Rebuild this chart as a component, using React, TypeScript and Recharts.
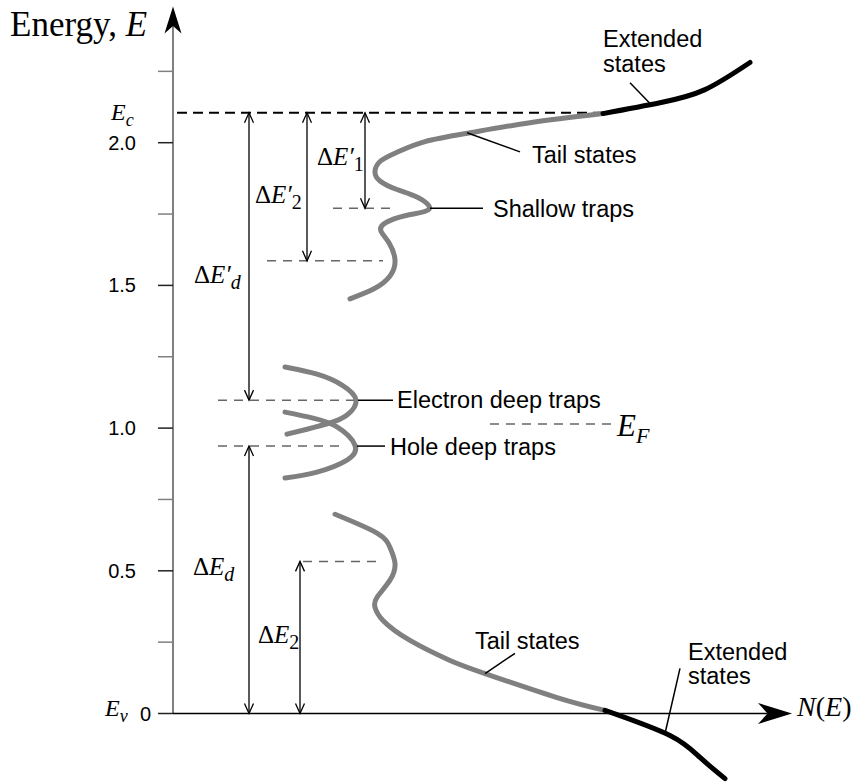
import React from 'react';
import { LineChart, Line, XAxis, YAxis, ReferenceLine, ReferenceDot } from 'recharts';

// ---- data (x: N(E) arbitrary units, y: energy in eV) ----
const yTicks = [0, 0.25, 0.5, 0.75, 1, 1.25, 1.5, 1.75, 2, 2.25];
const yTickLabels = ['0', '', '0.5', '', '1.0', '', '1.5', '', '2.0', ''];

const conductionTail = [
  { x: 1.77, y: 1.453 }, { x: 2.01, y: 1.488 }, { x: 2.17, y: 1.533 }, { x: 2.22, y: 1.589 },
  { x: 2.16, y: 1.649 }, { x: 2.08, y: 1.69 }, { x: 2.12, y: 1.718 }, { x: 2.33, y: 1.745 },
  { x: 2.56, y: 1.767 }, { x: 2.45, y: 1.808 }, { x: 2.24, y: 1.836 }, { x: 2.07, y: 1.866 },
  { x: 2.02, y: 1.9 }, { x: 2.08, y: 1.937 }, { x: 2.25, y: 1.968 }, { x: 2.52, y: 2.004 },
  { x: 2.97, y: 2.035 }, { x: 3.57, y: 2.07 }, { x: 4.3, y: 2.102 },
];
const conductionExtended = [
  { x: 4.3, y: 2.102 }, { x: 4.87, y: 2.14 }, { x: 5.32, y: 2.186 }, { x: 5.77, y: 2.281 },
];
const electronTrap = [
  { x: 1.12, y: 1.214 }, { x: 1.44, y: 1.189 }, { x: 1.69, y: 1.151 }, { x: 1.83, y: 1.098 },
  { x: 1.74, y: 1.046 }, { x: 1.57, y: 1.018 }, { x: 1.34, y: 0.996 }, { x: 1.14, y: 0.979 },
];
const holeTrap = [
  { x: 1.12, y: 1.056 }, { x: 1.4, y: 1.035 }, { x: 1.64, y: 1.004 }, { x: 1.82, y: 0.94 },
  { x: 1.74, y: 0.888 }, { x: 1.44, y: 0.846 }, { x: 1.12, y: 0.825 },
];
const valenceTail = [
  { x: 1.62, y: 0.698 }, { x: 2.04, y: 0.632 }, { x: 2.17, y: 0.582 }, { x: 2.22, y: 0.526 },
  { x: 2.17, y: 0.467 }, { x: 2.04, y: 0.407 }, { x: 2.02, y: 0.372 }, { x: 2.1, y: 0.326 },
  { x: 2.37, y: 0.256 }, { x: 2.77, y: 0.186 }, { x: 3.12, y: 0.14 }, { x: 3.84, y: 0.056 },
  { x: 4.32, y: 0.011 },
];
const valenceExtended = [
  { x: 4.32, y: 0.011 }, { x: 4.97, y: -0.077 }, { x: 5.27, y: -0.154 }, { x: 5.52, y: -0.228 },
];

// energy levels
const levelEc = 2.105;
const levelEv = 0;
const levelShallow1 = 1.77;
const levelShallow2 = 1.586;
const levelElectronDeep = 1.098;
const levelEF = 1.014;
const levelHoleDeep = 0.937;
const levelTail2 = 0.533;

const SERIF = '"Liberation Serif", "Times New Roman", serif';
const SANS = '"Liberation Sans", Arial, sans-serif';
const GRAY = '#808080';

const YTick = (props: any) => {
  const { x, y, index } = props;
  const label = yTickLabels[index];
  const major = label !== '';
  return (
    <g>
      <line x1={x} y1={y} x2={x + 15} y2={y} stroke={major ? '#222' : GRAY} strokeWidth={1.5} />
      {major && (
        <text x={label === '0' ? x - 7 : x - 22} y={y + 7} textAnchor="end" fontFamily={SANS} fontSize={20} fill="#000">
          {label}
        </text>
      )}
    </g>
  );
};

const DoubleArrow = (p: any) => {
  const { x1, y1, x2, y2 } = p;
  const len = Math.hypot(x2 - x1, y2 - y1) || 1;
  const dx = (x2 - x1) / len;
  const dy = (y2 - y1) / len;
  const L = 10;
  const W = 4.5;
  const head = (tx: number, ty: number, ux: number, uy: number) => {
    const nx = -uy;
    const ny = ux;
    const bx = tx - ux * L;
    const by = ty - uy * L;
    return (
      <polyline
        points={`${bx + nx * W},${by + ny * W} ${tx},${ty} ${bx - nx * W},${by - ny * W}`}
        fill="none"
        stroke="#000"
        strokeWidth={1.3}
      />
    );
  };
  return (
    <g>
      <line x1={x1} y1={y1} x2={x2} y2={y2} stroke="#000" strokeWidth={1.3} />
      {head(x2, y2, dx, dy)}
      {head(x1, y1, -dx, -dy)}
    </g>
  );
};

const makeAxisArrow = (lineColor: string, lineWidth: number, L: number, W: number) => (p: any) => {
  const { x1, y1, x2, y2 } = p;
  const len = Math.hypot(x2 - x1, y2 - y1) || 1;
  const ux = (x2 - x1) / len;
  const uy = (y2 - y1) / len;
  const nx = -uy;
  const ny = ux;
  const bx = x2 - ux * L;
  const by = y2 - uy * L;
  const notchX = x2 - ux * L * 0.72;
  const notchY = y2 - uy * L * 0.72;
  return (
    <g>
      <line x1={x1} y1={y1} x2={notchX} y2={notchY} stroke={lineColor} strokeWidth={lineWidth} />
      <polygon
        points={`${x2},${y2} ${bx + nx * W},${by + ny * W} ${notchX},${notchY} ${bx - nx * W},${by - ny * W}`}
        fill="#000"
      />
    </g>
  );
};

const txt = (content: React.ReactNode, opts: any = {}) => (p: any) => (
  <text
    x={p.cx}
    y={p.cy}
    fontFamily={opts.family || SANS}
    fontSize={opts.size || 23.5}
    textAnchor={opts.anchor || 'start'}
    fill="#000"
  >
    {content}
  </text>
);

const deltaLabel = (prime: boolean, sub: string, subItalic: boolean) =>
  txt(
    <>
      <tspan>Δ</tspan>
      <tspan fontStyle="italic">E</tspan>
      {prime && <tspan fontStyle="italic">′</tspan>}
      <tspan fontStyle={subItalic ? 'italic' : 'normal'} fontSize={20} dy={6}>
        {sub}
      </tspan>
    </>,
    { family: SERIF, size: 25 }
  );

const dashedGray = { stroke: '#666', strokeWidth: 1.5, strokeDasharray: '9 7' };
const pointer = { stroke: '#000', strokeWidth: 1.5 };

export default function App() {
  return (
    <div style={{ position: 'absolute', left: 0, top: 0, width: 859, height: 782, background: '#fff' }}>
      <LineChart width={859} height={782} margin={{ top: 0, right: 36, bottom: 0, left: 113 }}>
        <XAxis type="number" dataKey="x" domain={[0, 6.5]} hide />
        <YAxis
          type="number"
          dataKey="y"
          domain={[-0.24, 2.5]}
          ticks={yTicks}
          interval={0}
          width={60}
          axisLine={false}
          tickLine={false}
          tickSize={15}
          tickMargin={0}
          tick={<YTick />}
        />

        {/* axes with arrows */}
        <ReferenceLine segment={[{ x: 0, y: levelEv }, { x: 0, y: 2.477 }]} shape={makeAxisArrow(GRAY, 2, 27, 8.5)} />
        <ReferenceLine segment={[{ x: 0, y: levelEv }, { x: 6.19, y: levelEv }]} shape={makeAxisArrow('#000', 1.5, 34, 10.5)} />

        {/* energy level dashed lines */}
        <ReferenceLine segment={[{ x: 0.04, y: levelEc }, { x: 4.3, y: levelEc }]} stroke="#000" strokeWidth={2} strokeDasharray="10 6" />
        <ReferenceLine segment={[{ x: 1.6, y: levelShallow1 }, { x: 2.2, y: levelShallow1 }]} {...dashedGray} />
        <ReferenceLine segment={[{ x: 0.94, y: levelShallow2 }, { x: 2.1, y: levelShallow2 }]} {...dashedGray} />
        <ReferenceLine segment={[{ x: 0.45, y: levelElectronDeep }, { x: 1.82, y: levelElectronDeep }]} {...dashedGray} />
        <ReferenceLine segment={[{ x: 0.45, y: levelHoleDeep }, { x: 1.67, y: levelHoleDeep }]} {...dashedGray} />
        <ReferenceLine segment={[{ x: 3.17, y: levelEF }, { x: 4.39, y: levelEF }]} {...dashedGray} />
        <ReferenceLine segment={[{ x: 1.3, y: levelTail2 }, { x: 2.05, y: levelTail2 }]} {...dashedGray} />

        {/* density of states curves */}
        <Line data={conductionTail} dataKey="y" type="natural" stroke={GRAY} strokeWidth={5} strokeLinecap="round" dot={false} isAnimationActive={false} />
        <Line data={conductionExtended} dataKey="y" type="natural" stroke="#000" strokeWidth={5} strokeLinecap="round" dot={false} isAnimationActive={false} />
        <Line data={electronTrap} dataKey="y" type="natural" stroke={GRAY} strokeWidth={5} strokeLinecap="round" dot={false} isAnimationActive={false} />
        <Line data={holeTrap} dataKey="y" type="natural" stroke={GRAY} strokeWidth={5} strokeLinecap="round" dot={false} isAnimationActive={false} />
        <Line data={valenceTail} dataKey="y" type="natural" stroke={GRAY} strokeWidth={5} strokeLinecap="round" dot={false} isAnimationActive={false} />
        <Line data={valenceExtended} dataKey="y" type="natural" stroke="#000" strokeWidth={5} strokeLinecap="round" dot={false} isAnimationActive={false} />

        {/* energy difference arrows */}
        <ReferenceLine segment={[{ x: 0.76, y: levelElectronDeep }, { x: 0.76, y: levelEc }]} shape={DoubleArrow} />
        <ReferenceLine segment={[{ x: 1.34, y: levelShallow2 }, { x: 1.34, y: levelEc }]} shape={DoubleArrow} />
        <ReferenceLine segment={[{ x: 1.92, y: levelShallow1 }, { x: 1.92, y: levelEc }]} shape={DoubleArrow} />
        <ReferenceLine segment={[{ x: 0.76, y: levelEv }, { x: 0.76, y: levelHoleDeep }]} shape={DoubleArrow} />
        <ReferenceLine segment={[{ x: 1.27, y: levelEv }, { x: 1.27, y: levelTail2 }]} shape={DoubleArrow} />

        {/* pointer lines */}
        <ReferenceLine segment={[{ x: 2.94, y: 2.035 }, { x: 3.47, y: 1.968 }]} {...pointer} />
        <ReferenceLine segment={[{ x: 2.57, y: levelShallow1 }, { x: 3.1, y: levelShallow1 }]} {...pointer} />
        <ReferenceLine segment={[{ x: 1.85, y: levelElectronDeep }, { x: 2.2, y: levelElectronDeep }]} {...pointer} />
        <ReferenceLine segment={[{ x: 1.84, y: levelHoleDeep }, { x: 2.12, y: levelHoleDeep }]} {...pointer} />
        <ReferenceLine segment={[{ x: 3.42, y: 0.211 }, { x: 3.12, y: 0.14 }]} {...pointer} />
        <ReferenceLine segment={[{ x: 4.57, y: 2.21 }, { x: 4.77, y: 2.137 }]} {...pointer} />
        <ReferenceLine segment={[{ x: 5.07, y: 0.158 }, { x: 4.92, y: -0.07 }]} {...pointer} />

        {/* text labels */}
        <ReferenceDot x={-1.63} y={2.375} ifOverflow="visible" shape={txt(<><tspan>Energy, </tspan><tspan fontStyle="italic">E</tspan></>, { family: SERIF, size: 35 })} />
        <ReferenceDot x={-0.62} y={2.08} ifOverflow="visible" shape={txt(<><tspan fontStyle="italic">E</tspan><tspan fontStyle="italic" fontSize={18} dy={6}>c</tspan></>, { family: SERIF, size: 24 })} />
        <ReferenceDot x={-0.68} y={-0.01} ifOverflow="visible" shape={txt(<><tspan fontStyle="italic">E</tspan><tspan fontStyle="italic" fontSize={18} dy={6}>v</tspan></>, { family: SERIF, size: 24 })} />
        <ReferenceDot x={6.24} y={-0.01} ifOverflow="visible" shape={txt(<><tspan fontStyle="italic">N</tspan><tspan>(</tspan><tspan fontStyle="italic">E</tspan><tspan>)</tspan></>, { family: SERIF, size: 28 })} />
        <ReferenceDot x={4.44} y={0.972} ifOverflow="visible" shape={txt(<><tspan fontStyle="italic">E</tspan><tspan fontStyle="italic" fontSize={22} dy={7}>F</tspan></>, { family: SERIF, size: 31 })} />

        <ReferenceDot x={4.3} y={2.337} ifOverflow="visible" shape={txt('Extended')} />
        <ReferenceDot x={4.3} y={2.249} ifOverflow="visible" shape={txt('states')} />
        <ReferenceDot x={3.59} y={1.93} ifOverflow="visible" shape={txt('Tail states')} />
        <ReferenceDot x={3.2} y={1.74} ifOverflow="visible" shape={txt('Shallow traps')} />
        <ReferenceDot x={2.24} y={1.07} ifOverflow="visible" shape={txt('Electron deep traps')} />
        <ReferenceDot x={2.17} y={0.905} ifOverflow="visible" shape={txt('Hole deep traps')} />
        <ReferenceDot x={3.02} y={0.225} ifOverflow="visible" shape={txt('Tail states')} />
        <ReferenceDot x={5.15} y={0.189} ifOverflow="visible" shape={txt('Extended')} />
        <ReferenceDot x={5.15} y={0.102} ifOverflow="visible" shape={txt('states')} />

        <ReferenceDot x={0.21} y={1.509} ifOverflow="visible" shape={deltaLabel(true, 'd', true)} />
        <ReferenceDot x={0.82} y={1.789} ifOverflow="visible" shape={deltaLabel(true, '2', false)} />
        <ReferenceDot x={1.44} y={1.923} ifOverflow="visible" shape={deltaLabel(true, '1', false)} />
        <ReferenceDot x={0.2} y={0.484} ifOverflow="visible" shape={deltaLabel(false, 'd', true)} />
        <ReferenceDot x={0.85} y={0.246} ifOverflow="visible" shape={deltaLabel(false, '2', false)} />
      </LineChart>
    </div>
  );
}
